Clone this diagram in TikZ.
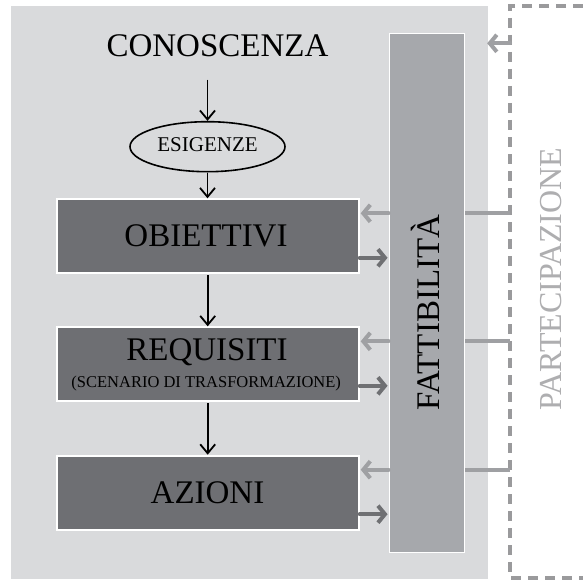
\documentclass[tikz,border=0pt]{standalone}
\usepackage{fontspec}
\setmainfont{Liberation Serif}
\usetikzlibrary{arrows.meta,shapes.geometric,calc}
\definecolor{bggray}{HTML}{D9DADC}
\definecolor{boxgray}{HTML}{6E6F73}
\definecolor{fattgray}{HTML}{A6A8AC}
\definecolor{lightarrow}{HTML}{9FA0A3}
\definecolor{darkarrow}{HTML}{6F7073}
\definecolor{dashgray}{HTML}{9A9A9C}
\definecolor{parttext}{HTML}{AEAEB0}
\begin{document}
\begin{tikzpicture}[x=1pt,y=-1pt,
  stepbox/.style={draw=white, line width=2pt, fill=boxgray, minimum width=302pt,
    minimum height=74pt, inner sep=0pt},
  big/.style={font=\fontsize{33}{33}\selectfont, anchor=base, inner sep=0pt},
  flow/.style={black, line width=1.8pt, -{Straight Barb[length=9pt,width=15pt]}},
  back/.style={lightarrow, line width=4pt, line cap=round,
    -{Straight Barb[length=7pt,width=17pt]}},
  forth/.style={darkarrow, line width=4pt, line cap=round,
    -{Straight Barb[length=7pt,width=17pt]}},
  link/.style={lightarrow, line width=4pt}
]
\useasboundingbox (0,0) rectangle (582,583);
\fill[white] (0,0) rectangle (582,583);

% background panel
\node[fill=bggray, minimum width=477pt, minimum height=573pt, inner sep=0pt] (bg) at (249.5,292.5) {};

% participation frame
\draw[dashgray, line width=3.6pt, dash pattern=on 10pt off 7pt]
  (600,6) -- (510,6) coordinate (dtl) -- (510,578) coordinate (dbl) -- (600,578);
\node[big, font=\fontsize{32}{32}\selectfont, text=parttext, rotate=90] (part) at (561.5,279) {PARTECIPAZIONE};

% feasibility column
\node[draw=white, line width=1.5pt, fill=fattgray, minimum width=75pt, minimum height=519pt,
  inner sep=0pt] (fatt) at (426.8,292.8) {};
\node[big, rotate=90] (fattlabel) at (439.5,312.5) {FATTIBILITÀ};

% main chain
\node[big] (con) at (217.5,57) {CONOSCENZA};
\node[draw, black, line width=1.6pt, ellipse, minimum width=155pt, minimum height=50pt,
  inner sep=0pt] (esi) at (207.5,146.7) {};
\node[font=\fontsize{21}{21}\selectfont, anchor=base, inner sep=0pt] (esilabel) at (207.5,151.7) {ESIGENZE};

\node[stepbox] (obi) at (207.7,236.3) {};
\node[big] (obilabel) at (206,246.7) {OBIETTIVI};

\node[stepbox] (req) at (207.7,364.3) {};
\node[big] (reqlabel) at (207,360.3) {REQUISITI};
\node[font=\fontsize{16.5}{16.5}\selectfont, anchor=base, inner sep=0pt] (reqsub) at (206.2,387) {(SCENARIO DI TRASFORMAZIONE)};

\node[stepbox] (azi) at (207.7,492.7) {};
\node[big] (azilabel) at (207.5,503) {AZIONI};

\draw[flow, shorten <=22pt] (esi.north |- con.south) -- (esi.north);
\draw[flow] (esi.south) -- (esi.south |- obi.north);
\draw[flow, shorten <=1pt] (obi.south) -- (req.north);
\draw[flow, shorten <=1pt] (req.south) -- (azi.north);

% exchanges between the steps and feasibility
\foreach \b in {obi,req,azi}{
  \path ([yshift=23pt]\b.east) coordinate (\b-in)
        ([yshift=-21.5pt]\b.east) coordinate (\b-out);
  \draw[back] (fatt.west |- \b-in) -- ([xshift=1pt]\b-in);
  \draw[forth] (\b-out) -- ([xshift=-1pt]fatt.west |- \b-out);
  \draw[link] (fatt.east |- \b-in) -- (dtl |- \b-in);
}

% participation feeding the whole process
\coordinate (p0) at (510,43.3);
\draw[back] (p0) -- ([xshift=-1pt]bg.east |- p0);
\end{tikzpicture}
\end{document}
